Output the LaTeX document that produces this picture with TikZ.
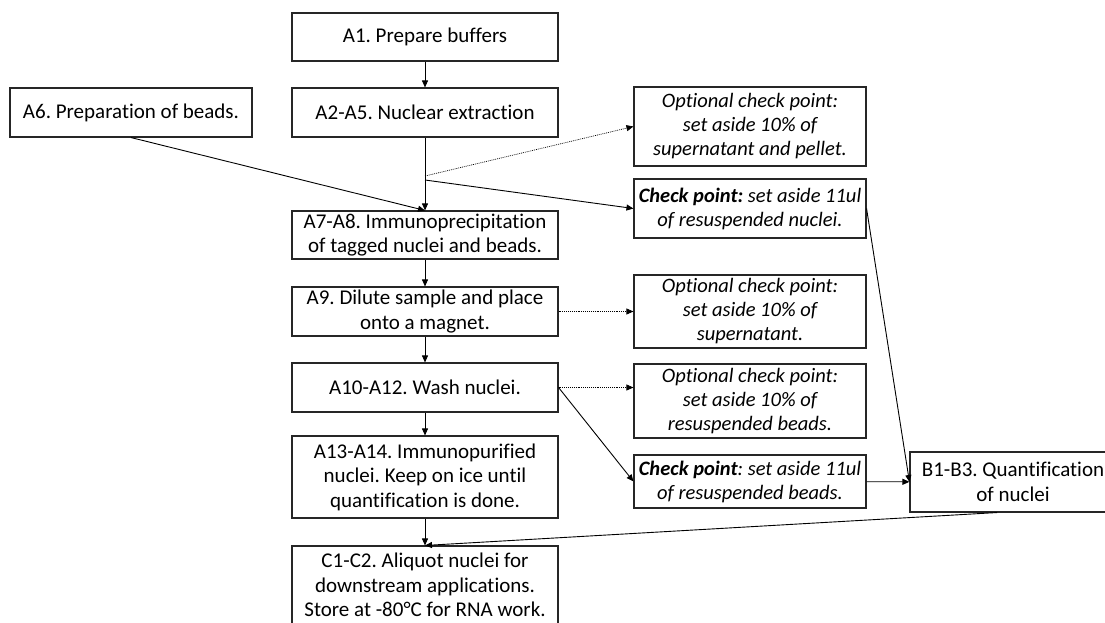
\documentclass[tikz,border=0pt]{standalone}
\usepackage{fontspec}
\setmainfont{Carlito}[Ligatures=NoCommon]
\usetikzlibrary{arrows.meta}
\frenchspacing
\begin{document}
\begin{tikzpicture}[x=1pt,y=-1pt]
\tikzstyle{stage}=[draw=black!85, line width=1.1pt, rectangle, align=center, minimum width=266pt, inner sep=1pt, font=\fontsize{21}{24.5}\selectfont]
\tikzstyle{check}=[stage, minimum width=232pt, font=\fontsize{20.5}{24}\selectfont\itshape]
\tikzstyle{line}=[draw, line width=0.9pt, -{Triangle[length=7pt,width=6pt]}]
\tikzstyle{optline}=[line, densely dotted, line width=0.7pt]

\clip (0,0) rectangle (1105,623);

% Main protocol steps
\node[stage, minimum height=48pt] (prep) at (425,37) {A1. Prepare buffers};
\node[stage, minimum height=49pt] (extract) at (425,112.5) {A2-A5. Nuclear extraction};
\node[stage, minimum width=242pt, minimum height=49pt] (beads) at (131,112.5) {A6. Preparation of beads.};
\node[stage, minimum height=48pt] (ip) at (425,235) {A7-A8. Immunoprecipitation\\of tagged nuclei and beads.};
\node[stage, minimum height=49pt] (dilute) at (425,311.5) {A9. Dilute sample and place\\onto a magnet.};
\node[stage, minimum height=49pt] (wash) at (425,387.5) {A10-A12. Wash nuclei.};
\node[stage, minimum height=82pt] (purified) at (425,477) {A13-A14. Immunopurified\\nuclei. Keep on ice until\\quantification is done.};
\node[stage, minimum height=78pt] (aliquot) at (425,585) {C1-C2. Aliquot nuclei for\\downstream applications.\\Store at -80°C for RNA work.};

% Check points
\node[check, minimum height=79pt] (opt1) at (750,126.5) {Optional check point:\\set aside 10\% of\\supernatant and pellet.};
\node[check, minimum height=59pt] (chk1) at (750,208.5) {\textbf{Check point:} set aside 11ul\\of resuspended nuclei.};
\node[check, minimum height=73pt] (opt2) at (750,311.5) {Optional check point:\\set aside 10\% of\\supernatant.};
\node[check, minimum height=74pt] (opt3) at (750,401) {Optional check point:\\set aside 10\% of\\resuspended beads.};
\node[check, minimum height=53pt] (chk2) at (750,481.5) {\textbf{Check point}: set aside 11ul\\of resuspended beads.};
\node[stage, minimum width=206pt, minimum height=60pt] (quant) at (1013,482) {B1-B3. Quantification\\of nuclei};

% Flow
\coordinate (split1) at (425,176);
\coordinate (split2) at (425,180);
\draw[line] (prep) -- (extract);
\draw[line] (extract) -- (ip);
\draw[line] (beads.south) -- (ip.north);
\draw[optline] (split1) -- (opt1.west);
\draw[line] (split2) -- (chk1.west);
\draw[line] (ip) -- (dilute);
\draw[optline] (dilute) -- (opt2);
\draw[line] (dilute) -- (wash);
\draw[optline] (wash.east) -- (wash.east -| opt3.west);
\draw[line] (wash.east) -- (chk2.west);
\draw[line] (wash) -- (purified);
\draw[line] (purified) -- (aliquot);
\draw[line] (chk1.east) -- (quant.west);
\draw[line] (chk2) -- (quant);
\draw[line] ([xshift=-16pt]quant.south) -- (aliquot.north);
\end{tikzpicture}
\end{document}
